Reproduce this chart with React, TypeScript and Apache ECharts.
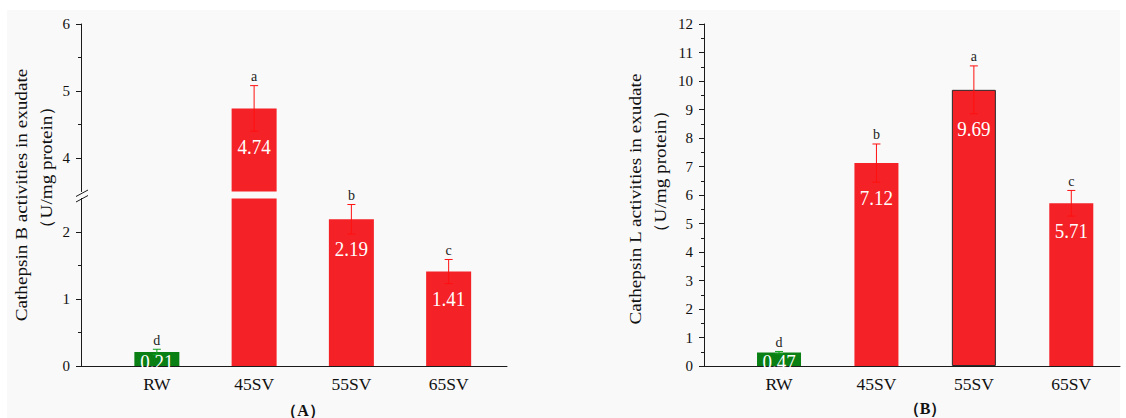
import React, { useEffect, useRef } from "react";
import * as echarts from "echarts";

const categories = ["RW", "45SV", "55SV", "65SV"];
const cathepsinB = [0.21, 4.74, 2.19, 1.41];
const cathepsinBErr = [0.04, 0.34, 0.22, 0.18];
const cathepsinBLetters = ["d", "a", "b", "c"];
const cathepsinL = [0.47, 7.12, 9.69, 5.71];
const cathepsinLErr = [0.04, 0.67, 0.84, 0.45];
const cathepsinLLetters = ["d", "b", "a", "c"];
const leftLowTicks = [0, 1, 2];
const leftLowMinor = [0.5, 1.5];
const leftHighTicks = [4, 5, 6];
const leftHighMinor = [4.5, 5.5];
const rightTicks = [0, 1, 2, 3, 4, 5, 6, 7, 8, 9, 10, 11, 12];
const rightMinor = [0.5, 1.5, 2.5, 3.5, 4.5, 5.5, 6.5, 7.5, 8.5, 9.5, 10.5, 11.5];

const SERIF = "'Liberation Serif', 'Times New Roman', serif";
const RED = "#f42126";
const GREEN = "#0a8014";
const ERR_RED = "#ff1010";
const ERR_GREEN = "#12a020";

function makeErrorRender(values: number[], errs: number[], letters: string[], keep: (m: number) => boolean) {
  return (params: any, api: any) => {
    const i = api.value(0);
    const m = values[i];
    const e = errs[i];
    if (!keep(m)) return null;
    const top = api.coord([i, m + e]);
    const bot = api.coord([i, m - e]);
    const zero = api.coord([i, 0]);
    const col = i === 0 ? ERR_GREEN : ERR_RED;
    const cap = 4;
    const labelY = Math.min(bot[1] + 15, zero[1] - 4.5);
    return {
      type: "group",
      children: [
        { type: "line", shape: { x1: top[0], y1: top[1], x2: bot[0], y2: bot[1] }, style: { stroke: col, lineWidth: 1 } },
        { type: "line", shape: { x1: top[0] - cap, y1: top[1], x2: top[0] + cap, y2: top[1] }, style: { stroke: col, lineWidth: 1 } },
        { type: "line", shape: { x1: bot[0] - cap, y1: bot[1], x2: bot[0] + cap, y2: bot[1] }, style: { stroke: col, lineWidth: 1 } },
        {
          type: "text",
          x: top[0],
          y: top[1] - 9,
          style: { text: letters[i], fill: "#222", font: `14px ${SERIF}`, align: "center", verticalAlign: "middle", textAlign: "center", textVerticalAlign: "middle" },
        },
        {
          type: "text",
          x: top[0],
          y: labelY,
          scaleY: 1.1,
          z2: 10,
          style: { text: values[i].toFixed(2), fill: "#ffffff", font: `19px ${SERIF}`, align: "center", verticalAlign: "middle", textAlign: "center", textVerticalAlign: "middle" },
        },
      ],
    };
  };
}

export default function App() {
  const ref = useRef<HTMLDivElement>(null);
  useEffect(() => {
    const chart = echarts.init(ref.current as HTMLDivElement, null, { renderer: "svg" });

    const axisLine = { show: true, onZero: false, lineStyle: { color: "#1a1a1a", width: 1 } };
    const xLabel = {
      customValues: [0, 1, 2, 3],
      formatter: (v: number) => categories[Math.round(v)],
      fontFamily: SERIF,
      fontSize: 17.5,
      color: "#111",
      margin: 9,
    };
    const yLabel = (vals: number[]) => ({ customValues: vals, fontFamily: SERIF, fontSize: 15, color: "#111", margin: 11 });
    const majorTick = (vals: number[]) => ({ show: true, customValues: vals, length: 5, lineStyle: { color: "#1a1a1a" } });
    const minorAxis = (grid: number, min: number, max: number, vals: number[]) => ({
      type: "value",
      gridIndex: grid,
      position: "left",
      min,
      max,
      axisLine: { show: false, onZero: false },
      axisLabel: { show: false },
      splitLine: { show: false },
      axisTick: { show: true, customValues: vals, length: 3, lineStyle: { color: "#1a1a1a" } },
    });

    const barData = (vals: number[], special?: number) =>
      vals.map((v, i) => ({
        value: [i, v],
        itemStyle: {
          color: i === 0 ? GREEN : RED,
          borderColor: i === special ? "#2a2a2a" : "transparent",
          borderWidth: i === special ? 1 : 0,
        },
      }));
    const errData = (vals: number[]) => vals.map((v, i) => [i, v]);

    const titleStyle = (text: string) => ({
      text,
      font: `17px ${SERIF}`,
      fill: "#111",
      align: "center",
      verticalAlign: "middle",
      textAlign: "center",
      textVerticalAlign: "middle",
    });

    const option: any = {
      animation: false,
      grid: [
        { left: 81, top: 198.5, width: 426, height: 167.5 },
        { left: 81, top: 24, width: 426, height: 167.5 },
        { left: 704, top: 24, width: 416, height: 342 },
      ],
      xAxis: [
        { type: "value", gridIndex: 0, min: -0.78, max: 3.6, axisLine, axisTick: { show: false }, splitLine: { show: false }, axisLabel: xLabel },
        { type: "value", gridIndex: 1, min: -0.78, max: 3.6, show: false, axisLine: { show: false, onZero: false }, splitLine: { show: false } },
        { type: "value", gridIndex: 2, min: -0.77, max: 3.5, axisLine, axisTick: { show: false }, splitLine: { show: false }, axisLabel: xLabel },
      ],
      yAxis: [
        { type: "value", gridIndex: 0, position: "left", min: 0, max: 2.5, axisLine, axisTick: majorTick(leftLowTicks), axisLabel: yLabel(leftLowTicks), splitLine: { show: false } },
        minorAxis(0, 0, 2.5, leftLowMinor),
        { type: "value", gridIndex: 1, position: "left", min: 3.5, max: 6, axisLine, axisTick: majorTick(leftHighTicks), axisLabel: yLabel(leftHighTicks), splitLine: { show: false } },
        minorAxis(1, 3.5, 6, leftHighMinor),
        { type: "value", gridIndex: 2, position: "left", min: 0, max: 12, axisLine, axisTick: majorTick(rightTicks), axisLabel: yLabel(rightTicks), splitLine: { show: false } },
        minorAxis(2, 0, 12, rightMinor),
      ],
      series: [
        { type: "bar", xAxisIndex: 0, yAxisIndex: 0, barWidth: 45, clip: true, data: barData(cathepsinB) },
        { type: "bar", xAxisIndex: 1, yAxisIndex: 2, barWidth: 45, clip: true, data: barData(cathepsinB) },
        { type: "bar", xAxisIndex: 2, yAxisIndex: 4, barWidth: 44, clip: true, data: barData(cathepsinL, 2) },
        { type: "custom", xAxisIndex: 0, yAxisIndex: 0, z: 5, data: errData(cathepsinB), renderItem: makeErrorRender(cathepsinB, cathepsinBErr, cathepsinBLetters, (m) => m <= 2.5) },
        { type: "custom", xAxisIndex: 1, yAxisIndex: 2, z: 5, data: errData(cathepsinB), renderItem: makeErrorRender(cathepsinB, cathepsinBErr, cathepsinBLetters, (m) => m >= 3.5) },
        { type: "custom", xAxisIndex: 2, yAxisIndex: 4, z: 5, data: errData(cathepsinL), renderItem: makeErrorRender(cathepsinL, cathepsinLErr, cathepsinLLetters, () => true) },
      ],
      graphic: [
        { type: "rect", z: -100, silent: true, shape: { x: 7, y: 10, width: 1113, height: 408 }, style: { fill: "#f9f9f9" } },
        { type: "line", z: 10, shape: { x1: 76, y1: 196.5, x2: 88, y2: 190 }, style: { stroke: "#1a1a1a", lineWidth: 1 } },
        { type: "line", z: 10, shape: { x1: 76, y1: 202, x2: 88, y2: 195.5 }, style: { stroke: "#1a1a1a", lineWidth: 1 } },
        { type: "text", x: 21.5, y: 195, rotation: Math.PI / 2, scaleX: 1.13, style: titleStyle("Cathepsin B activities in exudate") },
        { type: "text", x: 46, y: 167, rotation: Math.PI / 2, scaleX: 1.13, style: titleStyle("（U/mg protein）") },
        { type: "text", x: 635, y: 199, rotation: Math.PI / 2, scaleX: 1.13, style: titleStyle("Cathepsin L activities in exudate") },
        { type: "text", x: 660, y: 171, rotation: Math.PI / 2, scaleX: 1.13, style: titleStyle("（U/mg protein）") },
        { type: "text", x: 303, y: 410, style: { text: "（A）", font: `bold 16px ${SERIF}`, fill: "#111", align: "center", verticalAlign: "middle", textAlign: "center", textVerticalAlign: "middle" } },
        { type: "text", x: 925, y: 408, style: { text: "（B）", font: `bold 16px ${SERIF}`, fill: "#111", align: "center", verticalAlign: "middle", textAlign: "center", textVerticalAlign: "middle" } },
      ],
    };
    chart.setOption(option);
    return () => chart.dispose();
  }, []);
  return <div ref={ref} style={{ position: "absolute", left: 0, top: 0, width: 1126, height: 418 }} />;
}
